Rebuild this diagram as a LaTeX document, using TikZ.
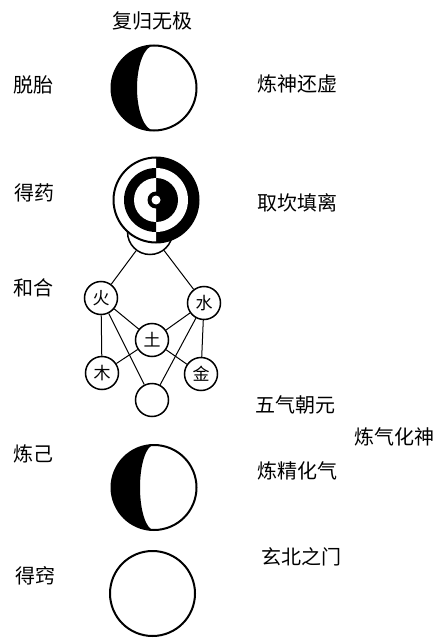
\documentclass[tikz,border=0pt]{standalone}
\usepackage{fontspec}
\newfontfamily\cjk{Noto Sans CJK SC}
\tikzstyle{every node}=[font=\cjk\fontsize{20}{24}\selectfont]

\begin{document}
\begin{tikzpicture}[
            x=1pt, y=1pt,
            ring/.style={circle, draw, line width=2pt, minimum size=85pt, inner sep=0pt},
            elem/.style={circle, draw, fill=white, line width=1.5pt, minimum size=33pt, inner sep=0pt,
                         font=\cjk\fontsize{17}{17}\selectfont},
            link/.style={line width=1pt}]
    \useasboundingbox (0,0) rectangle (445,-639);

    % labels left and right
    \node (fugui) at (152,-21) {复归无极};
    \node (tuotai) at (33,-85) {脱胎};
    \node (lianshen) at (297,-84) {炼神还虚};
    \node (deyao) at (34,-193) {得药};
    \node (qukan) at (297,-203) {取坎填离};
    \node (hehe) at (33,-288) {和合};
    \node (wuqi) at (295,-405) {五气朝元};
    \node (lianqi) at (394,-437) {炼气化神};
    \node (lianji) at (33,-454) {炼己};
    \node (lianjing) at (297,-471) {炼精化气};
    \node (xuanbei) at (301,-557) {玄北之门};
    \node (deqiao) at (35,-576) {得窍};

    % top crescent
    \fill (154,-88) ++(0,42.5) arc[start angle=90, end angle=270, radius=42.5]
        arc[start angle=270, end angle=90, x radius=17, y radius=42.5];
    \node[ring] (moontop) at (154,-88) {};

    % kan li rings
    \node[elem, minimum size=45pt] (zhong) at (150,-232) {};
    \foreach \r/\lc/\rc in {42.5/white/black, 32/black/white, 22/white/black} {
        \fill[\rc] (156,-200) ++(0,\r) arc[start angle=90, end angle=-90, radius=\r] -- cycle;
        \fill[\lc] (156,-200) ++(0,\r) arc[start angle=90, end angle=270, radius=\r] -- cycle;
    }
    \fill (156,-200) circle (8.5);
    \fill[white] (156,-200) circle (4.5);
    \node[ring] (kanli) at (156,-200) {};

    % five elements
    \node[elem] (huo) at (101,-298) {火};
    \node[elem] (shui) at (204,-303) {水};
    \node[elem] (tu) at (152,-340) {土};
    \node[elem] (mu) at (102,-373) {木};
    \node[elem] (jin) at (201,-374) {金};
    \node[elem] (xia) at (152,-400) {};
    \draw[link] (zhong) -- (huo);
    \draw[link] (zhong) -- (shui);
    \draw[link] (huo) -- (mu);
    \draw[link] (shui) -- (jin);
    \draw[link] (huo) -- (tu);
    \draw[link] (shui) -- (tu);
    \draw[link] (tu) -- (mu);
    \draw[link] (tu) -- (jin);
    \draw[link] (huo) -- (xia);
    \draw[link] (shui) -- (xia);

    % lower crescent
    \fill (154,-487.5) ++(0,42.5) arc[start angle=90, end angle=270, radius=42.5]
        arc[start angle=270, end angle=90, x radius=14, y radius=42.5];
    \node[ring] (moonlow) at (154,-487.5) {};

    % empty circle
    \node[ring] (kong) at (152.5,-593.5) {};
\end{tikzpicture}
\end{document}
